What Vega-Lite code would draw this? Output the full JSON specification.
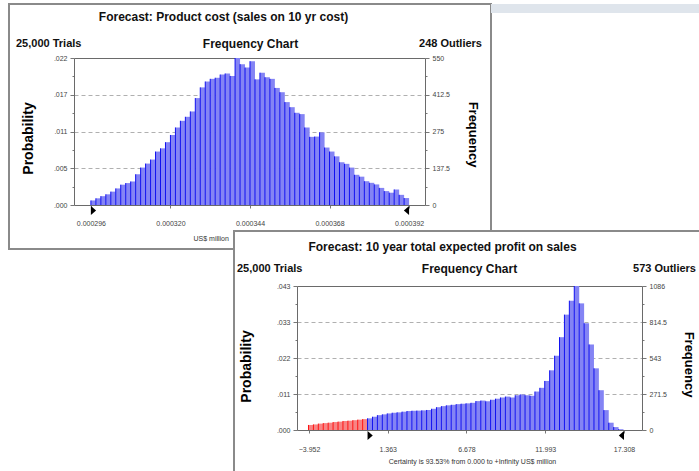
{
"$schema": "https://vega.github.io/schema/vega-lite/v6.json",
"padding": {"left": 8, "top": 3, "right": 0, "bottom": 0},
"background": "white",
"config": {"font": "Liberation Sans", "axis": {"labelFont": "Liberation Sans", "titleFont": "Liberation Sans"}},
"spacing": 227,
"bounds": "flush",
"datasets": {
"top": [
{"lo":0.0002960,"hi":0.0002975,"n":17},{"lo":0.0002975,"hi":0.0002990,"n":25},{"lo":0.0002990,"hi":0.0003005,"n":33},{"lo":0.0003005,"hi":0.0003020,"n":40},
{"lo":0.0003020,"hi":0.0003035,"n":50},{"lo":0.0003035,"hi":0.0003050,"n":62},{"lo":0.0003050,"hi":0.0003065,"n":76},{"lo":0.0003065,"hi":0.0003080,"n":82},
{"lo":0.0003080,"hi":0.0003095,"n":88},{"lo":0.0003095,"hi":0.0003110,"n":115},{"lo":0.0003110,"hi":0.0003125,"n":140},{"lo":0.0003125,"hi":0.0003140,"n":155},
{"lo":0.0003140,"hi":0.0003155,"n":170},{"lo":0.0003155,"hi":0.0003170,"n":200},{"lo":0.0003170,"hi":0.0003185,"n":212},{"lo":0.0003185,"hi":0.0003200,"n":235},
{"lo":0.0003200,"hi":0.0003215,"n":262},{"lo":0.0003215,"hi":0.0003230,"n":290},{"lo":0.0003230,"hi":0.0003245,"n":315},{"lo":0.0003245,"hi":0.0003260,"n":330},
{"lo":0.0003260,"hi":0.0003275,"n":350},{"lo":0.0003275,"hi":0.0003290,"n":400},{"lo":0.0003290,"hi":0.0003305,"n":440},{"lo":0.0003305,"hi":0.0003320,"n":462},
{"lo":0.0003320,"hi":0.0003335,"n":472},{"lo":0.0003335,"hi":0.0003350,"n":476},{"lo":0.0003350,"hi":0.0003365,"n":488},{"lo":0.0003365,"hi":0.0003380,"n":492},
{"lo":0.0003380,"hi":0.0003395,"n":483},{"lo":0.0003395,"hi":0.0003410,"n":550},{"lo":0.0003410,"hi":0.0003425,"n":527},{"lo":0.0003425,"hi":0.0003440,"n":514},
{"lo":0.0003440,"hi":0.0003455,"n":538},{"lo":0.0003455,"hi":0.0003470,"n":470},{"lo":0.0003470,"hi":0.0003485,"n":495},{"lo":0.0003485,"hi":0.0003500,"n":478},
{"lo":0.0003500,"hi":0.0003515,"n":472},{"lo":0.0003515,"hi":0.0003530,"n":438},{"lo":0.0003530,"hi":0.0003545,"n":422},{"lo":0.0003545,"hi":0.0003560,"n":385},
{"lo":0.0003560,"hi":0.0003575,"n":366},{"lo":0.0003575,"hi":0.0003590,"n":345},{"lo":0.0003590,"hi":0.0003605,"n":340},{"lo":0.0003605,"hi":0.0003620,"n":290},
{"lo":0.0003620,"hi":0.0003635,"n":255},{"lo":0.0003635,"hi":0.0003650,"n":256},{"lo":0.0003650,"hi":0.0003665,"n":272},{"lo":0.0003665,"hi":0.0003680,"n":215},
{"lo":0.0003680,"hi":0.0003695,"n":200},{"lo":0.0003695,"hi":0.0003710,"n":182},{"lo":0.0003710,"hi":0.0003725,"n":160},{"lo":0.0003725,"hi":0.0003740,"n":154},
{"lo":0.0003740,"hi":0.0003755,"n":140},{"lo":0.0003755,"hi":0.0003770,"n":113},{"lo":0.0003770,"hi":0.0003785,"n":106},{"lo":0.0003785,"hi":0.0003800,"n":89},
{"lo":0.0003800,"hi":0.0003815,"n":83},{"lo":0.0003815,"hi":0.0003830,"n":77},{"lo":0.0003830,"hi":0.0003845,"n":64},{"lo":0.0003845,"hi":0.0003860,"n":52},
{"lo":0.0003860,"hi":0.0003875,"n":46},{"lo":0.0003875,"hi":0.0003890,"n":58},{"lo":0.0003890,"hi":0.0003905,"n":38},{"lo":0.0003905,"hi":0.0003920,"n":26}
],
"bot": [
{"lo":-3.986,"hi":-3.654,"n":38,"z":"o"},{"lo":-3.654,"hi":-3.322,"n":42,"z":"o"},{"lo":-3.322,"hi":-2.990,"n":48,"z":"o"},{"lo":-2.990,"hi":-2.658,"n":52,"z":"o"},
{"lo":-2.658,"hi":-2.325,"n":55,"z":"o"},{"lo":-2.325,"hi":-1.993,"n":60,"z":"o"},{"lo":-1.993,"hi":-1.661,"n":63,"z":"o"},{"lo":-1.661,"hi":-1.329,"n":68,"z":"o"},
{"lo":-1.329,"hi":-0.997,"n":70,"z":"o"},{"lo":-0.997,"hi":-0.664,"n":74,"z":"o"},{"lo":-0.664,"hi":-0.332,"n":78,"z":"o"},{"lo":-0.332,"hi":0,"n":82,"z":"o"},
{"lo":0,"hi":0.332,"n":88,"z":"i"},{"lo":0.332,"hi":0.664,"n":100,"z":"i"},{"lo":0.664,"hi":0.997,"n":112,"z":"i"},{"lo":0.997,"hi":1.329,"n":118,"z":"i"},
{"lo":1.329,"hi":1.661,"n":125,"z":"i"},{"lo":1.661,"hi":1.993,"n":130,"z":"i"},{"lo":1.993,"hi":2.325,"n":133,"z":"i"},{"lo":2.325,"hi":2.658,"n":138,"z":"i"},
{"lo":2.658,"hi":2.990,"n":143,"z":"i"},{"lo":2.990,"hi":3.322,"n":145,"z":"i"},{"lo":3.322,"hi":3.654,"n":146,"z":"i"},{"lo":3.654,"hi":3.986,"n":148,"z":"i"},
{"lo":3.986,"hi":4.319,"n":151,"z":"i"},{"lo":4.319,"hi":4.651,"n":160,"z":"i"},{"lo":4.651,"hi":4.983,"n":172,"z":"i"},{"lo":4.983,"hi":5.315,"n":180,"z":"i"},
{"lo":5.315,"hi":5.647,"n":186,"z":"i"},{"lo":5.647,"hi":5.980,"n":190,"z":"i"},{"lo":5.980,"hi":6.312,"n":195,"z":"i"},{"lo":6.312,"hi":6.644,"n":198,"z":"i"},
{"lo":6.644,"hi":6.976,"n":201,"z":"i"},{"lo":6.976,"hi":7.308,"n":205,"z":"i"},{"lo":7.308,"hi":7.641,"n":218,"z":"i"},{"lo":7.641,"hi":7.973,"n":222,"z":"i"},
{"lo":7.973,"hi":8.305,"n":216,"z":"i"},{"lo":8.305,"hi":8.637,"n":228,"z":"i"},{"lo":8.637,"hi":8.969,"n":236,"z":"i"},{"lo":8.969,"hi":9.302,"n":245,"z":"i"},
{"lo":9.302,"hi":9.634,"n":252,"z":"i"},{"lo":9.634,"hi":9.966,"n":245,"z":"i"},{"lo":9.966,"hi":10.298,"n":262,"z":"i"},{"lo":10.298,"hi":10.630,"n":268,"z":"i"},
{"lo":10.630,"hi":10.963,"n":262,"z":"i"},{"lo":10.963,"hi":11.295,"n":258,"z":"i"},{"lo":11.295,"hi":11.627,"n":290,"z":"i"},{"lo":11.627,"hi":11.959,"n":318,"z":"i"},
{"lo":11.959,"hi":12.291,"n":370,"z":"i"},{"lo":12.291,"hi":12.624,"n":450,"z":"i"},{"lo":12.624,"hi":12.956,"n":560,"z":"i"},{"lo":12.956,"hi":13.288,"n":700,"z":"i"},
{"lo":13.288,"hi":13.620,"n":870,"z":"i"},{"lo":13.620,"hi":13.952,"n":975,"z":"i"},{"lo":13.952,"hi":14.285,"n":1086,"z":"i"},{"lo":14.285,"hi":14.617,"n":955,"z":"i"},
{"lo":14.617,"hi":14.949,"n":805,"z":"i"},{"lo":14.949,"hi":15.281,"n":645,"z":"i"},{"lo":15.281,"hi":15.613,"n":465,"z":"i"},{"lo":15.613,"hi":15.946,"n":300,"z":"i"},
{"lo":15.946,"hi":16.278,"n":150,"z":"i"},{"lo":16.278,"hi":16.610,"n":55,"z":"i"},{"lo":16.610,"hi":16.942,"n":22,"z":"i"},{"lo":16.942,"hi":17.274,"n":6,"z":"i"}
]
},
"vconcat": [
{
"spacing": 0,
"bounds": "flush",
"hconcat": [
{
"width": 482, "height": 245,
"view": {"stroke": "#8a8a8a", "strokeWidth": 2, "fill": "white"},
"resolve": {"axis": {"y": "independent"}},
"layer": [
{"data": {"name": "top"}, "mark": {"type": "bar", "color": "#8484f4"},
 "encoding": {
  "x": {"field": "lo", "type": "quantitative",
   "scale": {"domain": [0.0002909, 0.0003968], "range": [65, 416], "nice": false, "zero": false},
   "axis": {"orient": "bottom", "offset": -44, "values": [0.000296, 0.00032, 0.000344, 0.000368, 0.000392], "format": ".6f",
    "labelFontSize": 7, "labelColor": "#444", "labelFlush": false, "labelOverlap": false, "labelPadding": 11,
    "tickSize": 3, "tickColor": "#777", "domainColor": "#6a6a6a", "grid": false,
    "title": "US$ million", "titleFontSize": 7, "titleFontWeight": "normal", "titleColor": "#333",
    "titleAlign": "left", "titleX": 184, "titleY": 33, "titleBaseline": "middle"}},
  "x2": {"field": "hi"},
  "y": {"field": "n", "type": "quantitative",
   "scale": {"domain": [0, 550], "range": [201, 54], "nice": false},
   "axis": {"orient": "left", "offset": -65, "values": [0, 68.75, 137.5, 206.25, 275, 343.75, 412.5, 481.25, 550],
    "labelExpr": "indexof([0,137.5,275,412.5,550], datum.value) >= 0 ? substring(format(datum.value/25000, '.3f'), 1) : ''",
    "labelFontSize": 7, "labelColor": "#444", "labelPadding": 3,
    "tickSize": {"condition": {"test": "indexof([0,137.5,275,412.5,550], datum.value) >= 0", "value": 4}, "value": 2},
    "tickColor": "#777", "domainColor": "#6a6a6a",
    "grid": true,
    "gridOpacity": {"condition": {"test": "datum.value > 0 && indexof([137.5,275,412.5,550], datum.value) >= 0", "value": 1}, "value": 0},
    "gridDash": {"condition": {"test": "datum.value == 550", "value": []}, "value": [4, 3]},
    "gridColor": {"condition": {"test": "datum.value == 550", "value": "#6a6a6a"}, "value": "#b0b0b0"},
    "title": "Probability", "titleFontSize": 14, "titleFontWeight": "bold", "titleColor": "black",
    "titleAngle": 270, "titleAlign": "center", "titleBaseline": "middle", "titleX": -46, "titleY": 134}},
  "y2": {"datum": 0}
 }},
{"data": {"name": "top"}, "mark": {"type": "rule", "color": "#1010f0", "strokeWidth": 1},
 "encoding": {
  "x": {"field": "lo", "type": "quantitative"},
  "y": {"field": "n", "type": "quantitative",
   "axis": {"orient": "right", "offset": -66, "values": [0, 68.75, 137.5, 206.25, 275, 343.75, 412.5, 481.25, 550],
    "labelExpr": "indexof([0,137.5,275,412.5,550], datum.value) >= 0 ? '' + datum.value : ''",
    "labelFontSize": 7, "labelColor": "#444", "labelPadding": 3,
    "tickSize": {"condition": {"test": "indexof([0,137.5,275,412.5,550], datum.value) >= 0", "value": 4}, "value": 2},
    "tickColor": "#777", "domainColor": "#6a6a6a", "grid": false,
    "title": "Frequency", "titleFontSize": 13, "titleFontWeight": "bold", "titleColor": "black",
    "titleAngle": 90, "titleAlign": "center", "titleBaseline": "middle", "titleX": 47, "titleY": 130}},
  "y2": {"datum": 0}
 }},
{"data": {"values": [{}]}, "mark": {"type": "point", "shape": "M0,0.25L0,2.5L1.3,1.375Z", "filled": true, "color": "black", "opacity": 1, "size": 64},
 "encoding": {"x": {"datum": 0.000296, "type": "quantitative"}, "y": {"datum": 0, "type": "quantitative", "axis": null}}},
{"data": {"values": [{}]}, "mark": {"type": "point", "shape": "M0,0.25L0,2.5L-1.3,1.375Z", "filled": true, "color": "black", "opacity": 1, "size": 64},
 "encoding": {"x": {"datum": 0.000392, "type": "quantitative"}, "y": {"datum": 0, "type": "quantitative", "axis": null}}},
{"data": {"values": [{}]}, "mark": {"type": "text", "text": "Forecast: Product cost (sales on 10 yr cost)", "align": "center", "baseline": "middle", "dx": -26, "dy": -41, "fontSize": 12, "fontWeight": "bold", "color": "#111"},
 "encoding": {"x": {"datum": 0.00034385, "type": "quantitative"}, "y": {"datum": 550, "type": "quantitative", "axis": null}}},
{"data": {"values": [{}]}, "mark": {"type": "text", "text": "Frequency Chart", "align": "center", "baseline": "middle", "dx": 1, "dy": -14, "fontSize": 12, "fontWeight": "bold", "color": "#111"},
 "encoding": {"x": {"datum": 0.00034385, "type": "quantitative"}, "y": {"datum": 550, "type": "quantitative", "axis": null}}},
{"data": {"values": [{}]}, "mark": {"type": "text", "text": "25,000 Trials", "align": "left", "baseline": "middle", "dx": -58, "dy": -14, "fontSize": 11, "fontWeight": "bold", "color": "#111"},
 "encoding": {"x": {"datum": 0.0002909, "type": "quantitative"}, "y": {"datum": 550, "type": "quantitative", "axis": null}}},
{"data": {"values": [{}]}, "mark": {"type": "text", "text": "248 Outliers", "align": "right", "baseline": "middle", "dx": 57, "dy": -14, "fontSize": 11, "fontWeight": "bold", "color": "#111"},
 "encoding": {"x": {"datum": 0.0003968, "type": "quantitative"}, "y": {"datum": 550, "type": "quantitative", "axis": null}}}
]
},
{"width": 209, "height": 9, "data": {"values": []}, "mark": "point", "view": {"stroke": null, "fill": "#dfe5ec"}}
]
},
{
"spacing": 0,
"bounds": "flush",
"hconcat": [
{"width": 225, "height": 10, "data": {"values": []}, "mark": "point", "view": {"stroke": null, "fill": null}},
{
"width": 465, "height": 240,
"view": {"stroke": "#8a8a8a", "strokeWidth": 2, "strokeDash": [466, 704, 242, 0], "fill": "white"},
"resolve": {"axis": {"y": "independent"}},
"layer": [
{"data": {"name": "bot"}, "mark": {"type": "bar"},
 "encoding": {
  "color": {"condition": {"test": "datum.z == 'o'", "value": "#f78484"}, "value": "#8484f4"},
  "x": {"field": "lo", "type": "quantitative",
   "scale": {"domain": [-4.762, 18.523], "range": [63, 408], "nice": false, "zero": false},
   "axis": {"orient": "bottom", "offset": -41, "values": [-3.952, 1.363, 6.678, 11.993, 17.308], "format": ".3f",
    "labelFontSize": 7, "labelColor": "#444", "labelFlush": false, "labelOverlap": false, "labelPadding": 12,
    "tickSize": 3, "tickColor": "#777", "domainColor": "#6a6a6a", "grid": false,
    "title": "Certainty is 93.53% from 0.000 to +Infinity US$ million", "titleFontSize": 7, "titleFontWeight": "normal", "titleColor": "#333",
    "titleAlign": "center", "titleX": 238, "titleY": 31, "titleBaseline": "middle"}},
  "x2": {"field": "hi"},
  "y": {"field": "n", "type": "quantitative",
   "scale": {"domain": [0, 1086], "range": [199, 55], "nice": false},
   "axis": {"orient": "left", "offset": -63, "values": [0, 135.75, 271.5, 407.25, 543, 678.75, 814.5, 950.25, 1086],
    "labelExpr": "indexof([0,271.5,543,814.5,1086], datum.value) >= 0 ? substring(format(datum.value/25000, '.3f'), 1) : ''",
    "labelFontSize": 7, "labelColor": "#444", "labelPadding": 3,
    "tickSize": {"condition": {"test": "indexof([0,271.5,543,814.5,1086], datum.value) >= 0", "value": 4}, "value": 2},
    "tickColor": "#777", "domainColor": "#6a6a6a",
    "grid": true,
    "gridOpacity": {"condition": {"test": "datum.value > 0 && indexof([271.5,543,814.5,1086], datum.value) >= 0", "value": 1}, "value": 0},
    "gridDash": {"condition": {"test": "datum.value == 1086", "value": []}, "value": [4, 3]},
    "gridColor": {"condition": {"test": "datum.value == 1086", "value": "#6a6a6a"}, "value": "#b0b0b0"},
    "title": "Probability", "titleFontSize": 14, "titleFontWeight": "bold", "titleColor": "black",
    "titleAngle": 270, "titleAlign": "center", "titleBaseline": "middle", "titleX": -51, "titleY": 135}},
  "y2": {"datum": 0}
 }},
{"data": {"name": "bot"}, "mark": {"type": "rule", "strokeWidth": 1},
 "encoding": {
  "color": {"condition": {"test": "datum.z == 'o'", "value": "#ff1010"}, "value": "#1010f0"},
  "x": {"field": "lo", "type": "quantitative"},
  "y": {"field": "n", "type": "quantitative",
   "axis": {"orient": "right", "offset": -57, "values": [0, 135.75, 271.5, 407.25, 543, 678.75, 814.5, 950.25, 1086],
    "labelExpr": "indexof([0,271.5,543,814.5,1086], datum.value) >= 0 ? '' + datum.value : ''",
    "labelFontSize": 7, "labelColor": "#444", "labelPadding": 3,
    "tickSize": {"condition": {"test": "indexof([0,271.5,543,814.5,1086], datum.value) >= 0", "value": 4}, "value": 2},
    "tickColor": "#777", "domainColor": "#6a6a6a", "grid": false,
    "title": "Frequency", "titleFontSize": 13, "titleFontWeight": "bold", "titleColor": "black",
    "titleAngle": 90, "titleAlign": "center", "titleBaseline": "middle", "titleX": 46, "titleY": 133}},
  "y2": {"datum": 0}
 }},
{"data": {"values": [{}]}, "mark": {"type": "point", "shape": "M0,0.25L0,2.5L1.3,1.375Z", "filled": true, "color": "black", "opacity": 1, "size": 64},
 "encoding": {"x": {"datum": 0, "type": "quantitative"}, "y": {"datum": 0, "type": "quantitative", "axis": null}}},
{"data": {"values": [{}]}, "mark": {"type": "point", "shape": "M0,0.25L0,2.5L-1.3,1.375Z", "filled": true, "color": "black", "opacity": 1, "size": 64},
 "encoding": {"x": {"datum": 17.308, "type": "quantitative"}, "y": {"datum": 0, "type": "quantitative", "axis": null}}},
{"data": {"values": [{}]}, "mark": {"type": "text", "text": "Forecast: 10 year total expected profit on sales", "align": "center", "baseline": "middle", "dx": -27, "dy": -39, "fontSize": 12, "fontWeight": "bold", "color": "#111"},
 "encoding": {"x": {"datum": 6.8805, "type": "quantitative"}, "y": {"datum": 1086, "type": "quantitative", "axis": null}}},
{"data": {"values": [{}]}, "mark": {"type": "text", "text": "Frequency Chart", "align": "center", "baseline": "middle", "dx": 0, "dy": -17, "fontSize": 12, "fontWeight": "bold", "color": "#111"},
 "encoding": {"x": {"datum": 6.8805, "type": "quantitative"}, "y": {"datum": 1086, "type": "quantitative", "axis": null}}},
{"data": {"values": [{}]}, "mark": {"type": "text", "text": "25,000 Trials", "align": "left", "baseline": "middle", "dx": -60, "dy": -17, "fontSize": 11, "fontWeight": "bold", "color": "#111"},
 "encoding": {"x": {"datum": -4.762, "type": "quantitative"}, "y": {"datum": 1086, "type": "quantitative", "axis": null}}},
{"data": {"values": [{}]}, "mark": {"type": "text", "text": "573 Outliers", "align": "right", "baseline": "middle", "dx": 54, "dy": -17, "fontSize": 11, "fontWeight": "bold", "color": "#111"},
 "encoding": {"x": {"datum": 18.523, "type": "quantitative"}, "y": {"datum": 1086, "type": "quantitative", "axis": null}}}
]
}
]
}
]
}
